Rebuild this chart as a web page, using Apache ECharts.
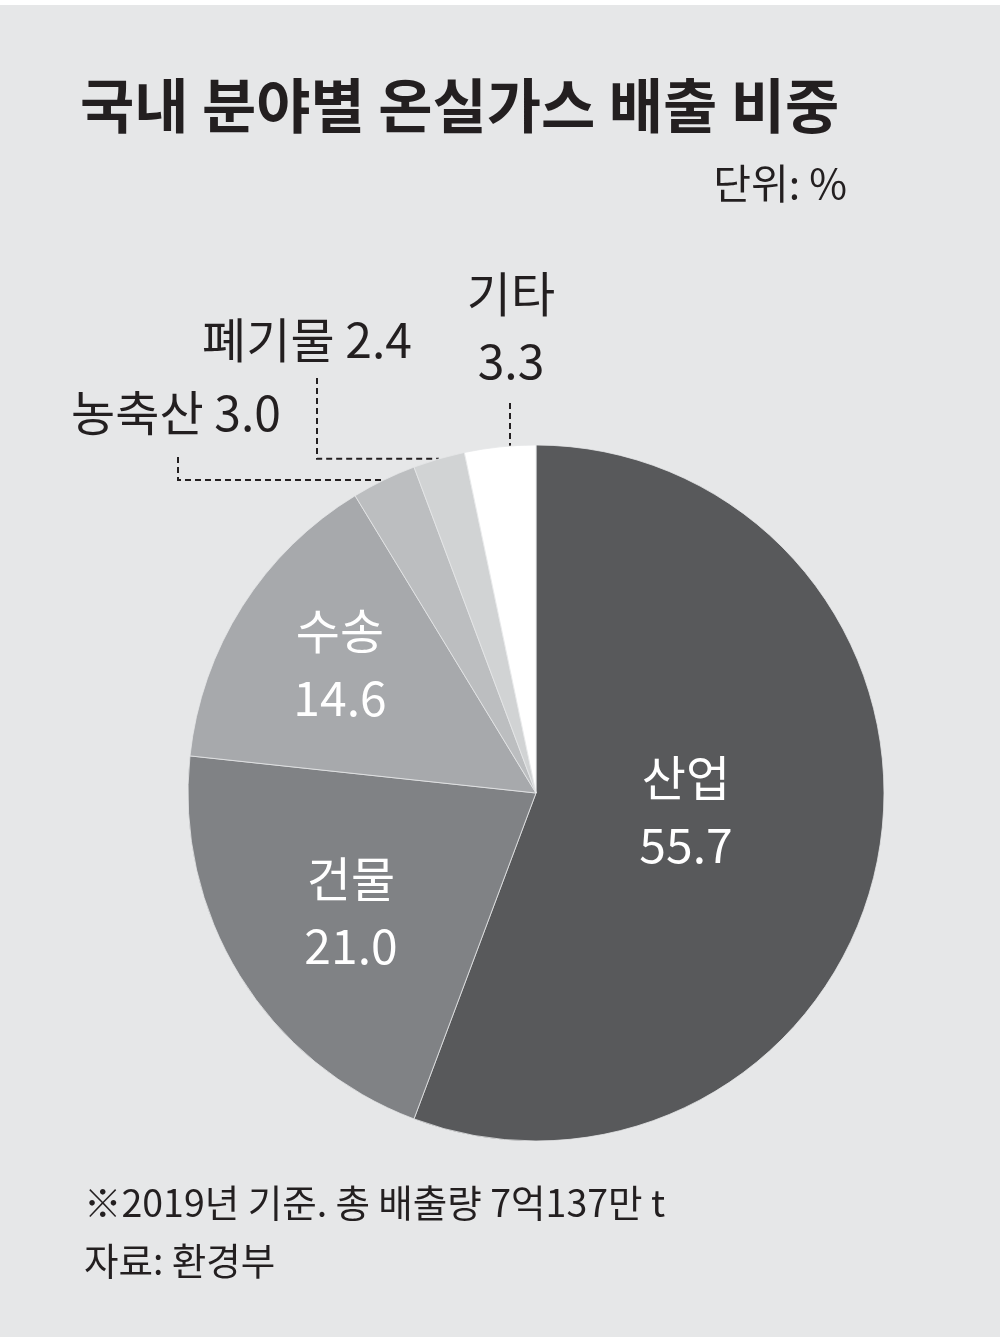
<!DOCTYPE html>
<html>
<head>
<meta charset="utf-8">
<script src="https://cdn.jsdelivr.net/npm/echarts@6/dist/echarts.min.js"></script>
<style>
html,body{margin:0;padding:0;background:#ffffff;}
#chart{width:1000px;height:1341px;}
</style>
</head>
<body>
<div id="chart"></div>
<script>
// ---- data ----
const categories = ['산업', '건물', '수송', '농축산', '폐기물', '기타'];
const values = [55.7, 21.0, 14.6, 3.0, 2.4, 3.3];
const sliceColors = ['#58595b', '#808285', '#a7a9ac', '#bcbec0', '#d1d3d4', '#ffffff'];
const titleText = '국내 분야별 온실가스 배출 비중';
const unitText = '단위: %';
const noteText = '※2019년 기준. 총 배출량 7억137만 t';
const sourceText = '자료: 환경부';

// ---- layout ----
const CX = 536, CY = 793, R = 348;
const FONT = '"Noto Sans CJK KR", "Noto Sans", sans-serif';
const INK = '#231f20';
const BG = '#e6e7e8';
// label anchor positions (centre of text block) per category
const labelPos = [
  {x: 686, y: 811},
  {x: 351, y: 912},
  {x: 340, y: 664},
  {x: 176, y: 413},
  {x: 307, y: 340},
  {x: 511, y: 327}
];
// leader-line anchors for outside labels: vertical line x and start y
const leader = {
  3: {x: 178, y0: 457, kind: 'elbow'},
  4: {x: 317, y0: 378, kind: 'elbow'},
  5: {x: 510, y0: 403, kind: 'vertical'}
};
const outside = [false, false, false, true, true, true];

const total = values.reduce((a, b) => a + b, 0);
function edgePoint(idx) {
  let before = 0;
  for (let i = 0; i < idx; i++) before += values[i];
  const a = (before + values[idx] / 2) / total * Math.PI * 2;
  return [CX + R * Math.sin(a), CY - R * Math.cos(a)];
}

const data = categories.map((name, i) => ({
  name: name,
  value: values[i],
  itemStyle: {color: sliceColors[i]},
  label: {
    position: outside[i] ? 'outside' : 'inside',
    color: outside[i] ? INK : '#ffffff',
    formatter: (p) => {
      const v = p.value.toFixed(1);
      if (i === 3 || i === 4) return p.name + ' ' + v;
      return p.name + '\n' + v;
    }
  },
  labelLine: {show: outside[i]}
}));

const chart = echarts.init(document.getElementById('chart'), null, {renderer: 'canvas'});
chart.setOption({
  backgroundColor: '#ffffff',
  animation: false,
  graphic: [
    {type: 'rect', z: -10, shape: {x: 0, y: 5, width: 1000, height: 1332}, style: {fill: BG}},
    {type: 'text', left: 80, top: 76, style: {text: titleText, font: 'bold 59px ' + FONT, fill: INK}},
    {type: 'text', right: 153, top: 163, style: {text: unitText, font: '41px ' + FONT, fill: INK}},
    {type: 'text', left: 84, top: 1184, style: {text: noteText, font: '37.5px ' + FONT, fill: INK}},
    {type: 'text', left: 84, top: 1242, style: {text: sourceText, font: '37.5px ' + FONT, fill: INK}}
  ],
  series: [{
    type: 'pie',
    center: [CX, CY],
    radius: R,
    startAngle: 90,
    clockwise: true,
    avoidLabelOverlap: false,
    itemStyle: {borderColor: BG, borderWidth: 0.8},
    label: {
      show: true,
      fontFamily: FONT,
      fontSize: 48,
      lineHeight: 67
    },
    labelLine: {
      show: false,
      lineStyle: {color: INK, width: 2, type: [6, 4]}
    },
    labelLayout: function (params) {
      const i = params.dataIndex;
      const pos = labelPos[i];
      const out = {x: pos.x, y: pos.y, align: 'center', verticalAlign: 'middle'};
      const L = leader[i];
      if (L) {
        if (L.kind === 'elbow') {
          const e = edgePoint(i);
          out.labelLinePoints = [[L.x, L.y0], [L.x, e[1]], [e[0], e[1]]];
        } else {
          const ye = CY - Math.sqrt(R * R - (L.x - CX) * (L.x - CX));
          out.labelLinePoints = [[L.x, L.y0], [L.x, (L.y0 + ye) / 2], [L.x, ye]];
        }
      }
      return out;
    },
    data: data
  }]
});
</script>
</body>
</html>
